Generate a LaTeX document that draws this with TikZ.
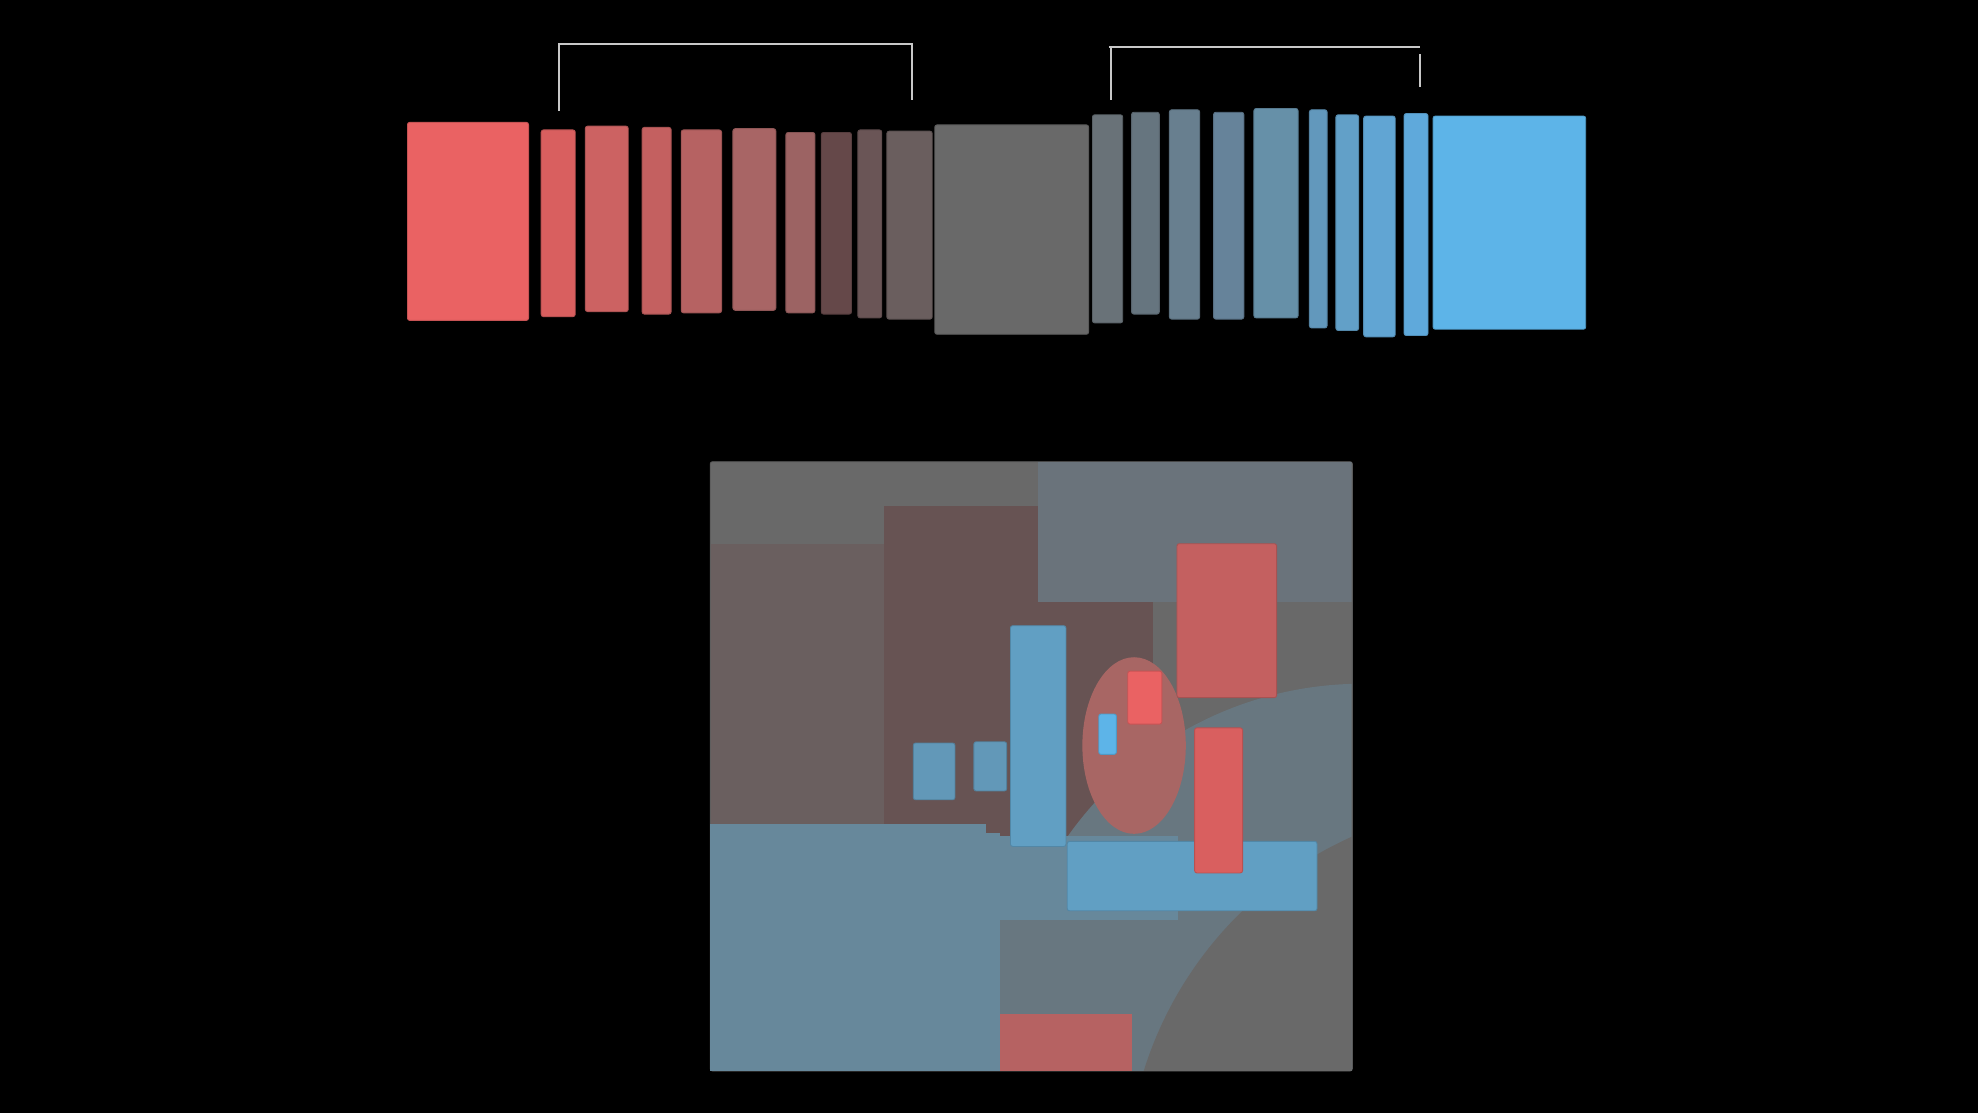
\documentclass[tikz,border=0pt]{standalone}
\usetikzlibrary{calc}
\definecolor{r1}{HTML}{EA6263}
\definecolor{r2}{HTML}{D95F5F}
\definecolor{r3}{HTML}{CC6262}
\definecolor{r4}{HTML}{C46060}
\definecolor{r5}{HTML}{B66262}
\definecolor{r6}{HTML}{A86565}
\definecolor{r7}{HTML}{9C6363}
\definecolor{r8}{HTML}{654849}
\definecolor{r9}{HTML}{6A5556}
\definecolor{r10}{HTML}{6A5E5E}
\definecolor{gg}{HTML}{696969}
\definecolor{b12}{HTML}{697278}
\definecolor{b13}{HTML}{66757F}
\definecolor{b14}{HTML}{687F8F}
\definecolor{b15}{HTML}{66839A}
\definecolor{b16}{HTML}{6690A8}
\definecolor{b17}{HTML}{6298BC}
\definecolor{b18}{HTML}{62A0C8}
\definecolor{b19}{HTML}{61A5D3}
\definecolor{b20}{HTML}{5FA9DB}
\definecolor{b21}{HTML}{5DB4E8}
\definecolor{brn}{HTML}{6A5F5F}
\definecolor{dbrn}{HTML}{675353}
\definecolor{bgr}{HTML}{6A737B}
\definecolor{ring}{HTML}{687780}
\definecolor{lblue}{HTML}{67889B}
\definecolor{mblue}{HTML}{619FC3}
\definecolor{sblue}{HTML}{6298B8}
\definecolor{ell}{HTML}{A86664}
\definecolor{brk}{HTML}{C8C8C8}
\tikzset{
  box/.style={fill=#1, draw=#1!85!black, line width=0.7pt, rounded corners=1.8pt},
  flat/.style={fill=#1, draw=none},
  bracket/.style={draw=brk, line width=1.6pt}
}
\begin{document}
\begin{tikzpicture}[x=1pt,y=-1pt]
\useasboundingbox[fill=black] (0,0) rectangle (1568,882);
% top row
\draw[box=r1]  (323,97) rectangle (419,254);
\draw[box=r2]  (429,103) rectangle (456,251);
\draw[box=r3]  (464,100) rectangle (498,247);
\draw[box=r4]  (509,101) rectangle (532,249);
\draw[box=r5]  (540,103) rectangle (572,248);
\draw[box=r6]  (581,102) rectangle (615,246);
\draw[box=r7]  (623,105) rectangle (646,248);
\draw[box=r8]  (651,105) rectangle (675,249);
\draw[box=r9]  (680,103) rectangle (699,252);
\draw[box=r10] (703,104) rectangle (739,253);
\draw[box=gg]  (741,99) rectangle (863,265);
\draw[box=b12] (866,91) rectangle (890,256);
\draw[box=b13] (897,89) rectangle (919,249);
\draw[box=b14] (927,87) rectangle (951,253);
\draw[box=b15] (962,89) rectangle (986,253);
\draw[box=b16] (994,86) rectangle (1029,252);
\draw[box=b17] (1038,87) rectangle (1052,260);
\draw[box=b18] (1059,91) rectangle (1077,262);
\draw[box=b19] (1081,92) rectangle (1106,267);
\draw[box=b20] (1113,90) rectangle (1132,266);
\draw[box=b21] (1136,92) rectangle (1257,261);
% brackets
\draw[bracket] (443,88) -- (443,35) -- (723,35) -- (723,79);
\draw[bracket] (879,37) -- (1126,37);
\draw[bracket] (881,37) -- (881,79);
\draw[bracket] (1126,43) -- (1126,69);
% bottom panel
\draw[box=gg] (563,366) rectangle (1072,849);
\begin{scope}
\clip (563.5,366.5) rectangle (1071.5,848.5);
\fill[dbrn] (701,401) rectangle (914,665);
\fill[brn] (563,431) rectangle (701,653);
\fill[bgr] (823,366) rectangle (1072,477);
\fill[ring] (1080,828) circle (286);
\fill[ring] (793,720) rectangle (920,849);
\fill[gg] (1195,939) circle (302);
\end{scope}
\fill[lblue] (563,653) rectangle (782,849);
\fill[lblue] (782,660) rectangle (793,849);
\fill[lblue] (793,663) rectangle (934,729);
\draw[box=mblue] (801,496) rectangle (845,671);
\draw[box=sblue] (724,589) rectangle (757,634);
\draw[box=sblue] (772,588) rectangle (798,627);
\draw[box=mblue] (846,667) rectangle (1044,722);
\fill[ell] (899,591) ellipse (41 and 70);
\draw[box=r1] (894,532) rectangle (921,574);
\draw[box=b21] (871,566) rectangle (885,598);
\draw[box=r4] (933,431) rectangle (1012,553);
\draw[box=r2] (947,577) rectangle (985,692);
\fill[r5] (793,804) rectangle (897,849);
\end{tikzpicture}
\end{document}
